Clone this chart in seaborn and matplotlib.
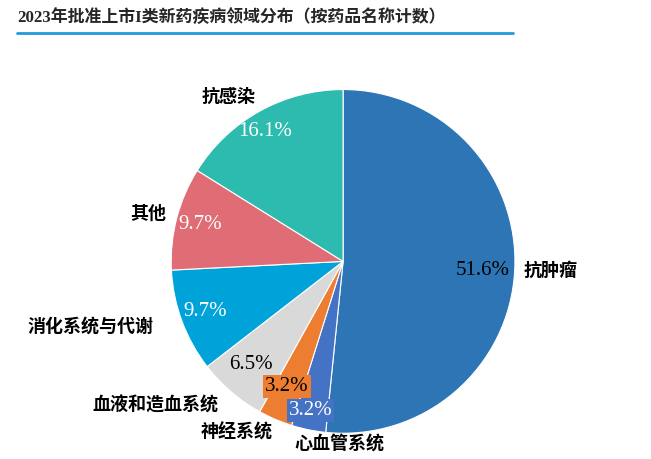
import matplotlib
matplotlib.use("Agg")
import matplotlib.pyplot as plt
import seaborn as sns

sns.set_style("white")

# data: drug counts by therapeutic area (31 drugs total)
areas = ["抗肿瘤", "心血管系统", "神经系统", "血液和造血系统", "消化系统与代谢", "其他", "抗感染"]
counts = [16, 1, 1, 2, 3, 3, 5]
pct_labels = ["51.6%", "3.2%", "3.2%", "6.5%", "9.7%", "9.7%", "16.1%"]
colors = ["#2E75B6", "#4472C4", "#ED7D31", "#D9D9D9", "#00A2DA", "#E06C75", "#2EBBAF"]
pct_colors = ["black", "white", "black", "black", "white", "white", "white"]
boxed = [False, True, True, False, False, False, False]

# label placement (pie radius = 1)
pct_pos = [(0.814, -0.052), (-0.19, -0.866), (-0.326, -0.727), (-0.535, -0.599),
           (-0.802, -0.291), (-0.831, 0.215), (-0.453, 0.756)]
name_pos = [(1.209, -0.052), (-0.023, -1.058), (-0.622, -0.994), (-1.093, -0.837),
            (-1.471, -0.378), (-1.134, 0.279), (-0.669, 0.959)]

CJK = ["Noto Sans CJK SC", "DejaVu Sans"]
SERIF = ["Liberation Serif", "Noto Sans CJK SC"]

fig = plt.figure(figsize=(6.51, 4.59), dpi=100)
ax = fig.add_axes([0.263, 0.056, 0.528, 0.749])

ax.pie(counts, colors=colors, startangle=90, counterclock=False,
       wedgeprops=dict(edgecolor="white", linewidth=0.8))
ax.set_xlim(-1, 1)
ax.set_ylim(-1, 1)
ax.set_aspect("equal")

for i in range(len(areas)):
    x, y = pct_pos[i]
    bbox = dict(boxstyle="square,pad=0.1", facecolor=colors[i], edgecolor="none") if boxed[i] else None
    ax.text(x, y, pct_labels[i], ha="center", va="center", fontsize=15,
            color=pct_colors[i], family=SERIF, bbox=bbox, clip_on=False)
    nx, ny = name_pos[i]
    ax.text(nx, ny, areas[i], ha="center", va="center", fontsize=13,
            fontweight="bold", color="black", family=CJK, clip_on=False)

fig.text(0.026, 0.961, "2023年批准上市I类新药疾病领域分布（按药品名称计数）",
         ha="left", va="center", fontsize=12.2, fontweight="bold", family=SERIF)
fig.add_artist(plt.Line2D([0.026, 0.788], [0.928, 0.928], color="#1F9BDE", linewidth=2))

fig.savefig("out.png", dpi=100)
